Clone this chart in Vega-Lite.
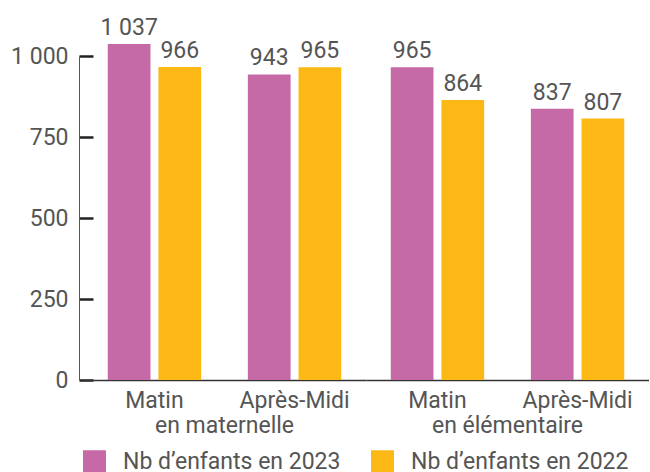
{
  "$schema": "https://vega.github.io/schema/vega-lite/v6.json",
  "padding": {"left": 10, "top": 17, "right": 0, "bottom": 0},
  "config": {
    "font": "Roboto",
    "locale": {"number": {"decimal": ",", "thousands": "\u00a0", "grouping": [3], "currency": ["", " €"]}},
    "view": {"stroke": null},
    "facet": {"spacing": 0},
    "axis": {"grid": false}
  },
  "data": {"values": [
    {"niveau": "en maternelle", "moment": "Matin", "serie": "Nb d’enfants en 2023", "value": 1037},
    {"niveau": "en maternelle", "moment": "Matin", "serie": "Nb d’enfants en 2022", "value": 966},
    {"niveau": "en maternelle", "moment": "Après-Midi", "serie": "Nb d’enfants en 2023", "value": 943},
    {"niveau": "en maternelle", "moment": "Après-Midi", "serie": "Nb d’enfants en 2022", "value": 965},
    {"niveau": "en élémentaire", "moment": "Matin", "serie": "Nb d’enfants en 2023", "value": 965},
    {"niveau": "en élémentaire", "moment": "Matin", "serie": "Nb d’enfants en 2022", "value": 864},
    {"niveau": "en élémentaire", "moment": "Après-Midi", "serie": "Nb d’enfants en 2023", "value": 837},
    {"niveau": "en élémentaire", "moment": "Après-Midi", "serie": "Nb d’enfants en 2022", "value": 807}
  ]},
  "facet": {
    "column": {
      "field": "niveau", "type": "nominal", "sort": ["en maternelle", "en élémentaire"],
      "header": {"title": null, "labelOrient": "bottom", "labelFontSize": 23, "labelColor": "#555555", "labelPadding": 3, "labelFont": "Roboto"}
    }
  },
  "spec": {
    "width": 283,
    "height": 324,
    "encoding": {
      "x": {
        "field": "moment", "type": "nominal", "sort": ["Matin", "Après-Midi"],
        "scale": {"paddingInner": 0, "paddingOuter": 0.01},
        "axis": {"title": null, "labelAngle": 0, "ticks": false, "domainColor": "#333333", "domainWidth": 1.5, "labelFontSize": 23, "labelColor": "#555555", "labelPadding": 9}
      },
      "xOffset": {
        "field": "serie", "type": "nominal", "sort": ["Nb d’enfants en 2023", "Nb d’enfants en 2022"],
        "scale": {"paddingInner": 0.157, "paddingOuter": 0.461}
      },
      "y": {
        "field": "value", "type": "quantitative",
        "scale": {"domain": [0, 1000], "nice": false},
        "axis": {"title": null, "offset": 4, "values": [0, 250, 500, 750, 1000], "format": ",d", "domainColor": "#555555", "domainWidth": 1, "tickColor": "#222222", "tickWidth": 2.5, "tickSize": -14, "labelFontSize": 23, "labelColor": "#555555", "labelPadding": 25}
      }
    },
    "layer": [
      {
        "mark": {"type": "bar"},
        "encoding": {
          "color": {
            "field": "serie", "type": "nominal",
            "scale": {"domain": ["Nb d’enfants en 2023", "Nb d’enfants en 2022"], "range": ["#C66AA7", "#FCB814"]},
            "legend": {"title": null, "orient": "bottom", "offset": 12, "direction": "horizontal", "symbolType": "square", "symbolSize": 529, "symbolStrokeWidth": 0, "labelFontSize": 23, "labelColor": "#555555", "labelOffset": 17, "labelLimit": 400, "columnPadding": 30}
          }
        }
      },
      {
        "mark": {"type": "text", "baseline": "alphabetic", "dy": -9, "fontSize": 23, "color": "#555555"},
        "encoding": {"text": {"field": "value", "type": "quantitative", "format": ",d"}}
      }
    ]
  },
  "resolve": {"scale": {"x": "independent", "xOffset": "independent"}}
}
